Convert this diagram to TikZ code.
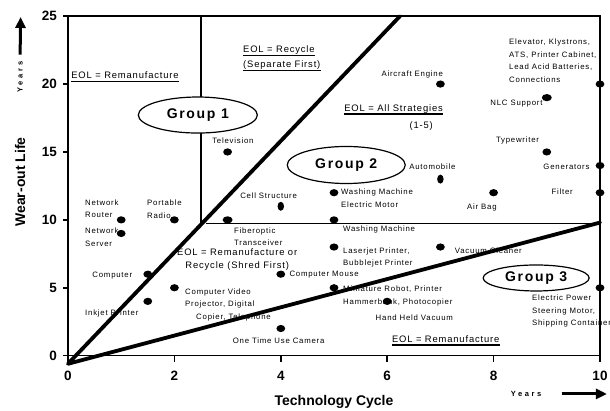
\documentclass[tikz,border=0pt]{standalone}
\usepackage{fontspec}
\setmainfont{Liberation Sans}
\newfontfamily\lblfont[LetterSpace=10]{Liberation Sans}
\newfontfamily\eolfont[LetterSpace=9]{Liberation Sans}
\newfontfamily\grpfont[LetterSpace=12]{Liberation Sans}
\newfontfamily\yrsfont[LetterSpace=35]{Liberation Sans}
\usepackage{tikz}
\usetikzlibrary{arrows.meta,shapes.geometric}
\newcommand\ulnode[1]{\draw[uline] ([yshift=-2.8pt]#1.base west) -- ([yshift=-2.8pt]#1.base east);}

\begin{document}
\begin{tikzpicture}[x=53.2pt,y=13.58pt,
	lbl/.style={font=\lblfont\fontsize{7.8}{12.5}\selectfont,inner sep=0pt,align=left},
	eol/.style={font=\eolfont\fontsize{9.4}{12.7}\selectfont,inner sep=0pt},
	grp/.style={ellipse,draw,fill=white,line width=1.2pt,inner sep=0pt,font=\grpfont\bfseries\fontsize{14}{16}\selectfont},
	dot/.style={ellipse,fill,inner sep=0pt,minimum width=8.8pt,minimum height=7.2pt},
	vdot/.style={dot,minimum width=6.5pt,minimum height=9pt},
	axlbl/.style={font=\bfseries\fontsize{13.5}{15}\selectfont,inner sep=0pt},
	axtitle/.style={font=\bfseries\fontsize{14}{16}\selectfont,inner sep=0pt},
	yrs/.style={font=\yrsfont\bfseries\fontsize{7.5}{8}\selectfont,inner sep=0pt},
	yarrow/.style={line width=3pt,-{Triangle[length=11pt,width=10pt]}},
	uline/.style={line width=1.4pt},
	border/.style={line width=3.8pt,line join=round,line cap=round},
	sep/.style={line width=1.4pt},
	frame/.style={line width=1.6pt}]
	\useasboundingbox (-1.278,-4.072) rectangle (10.188,26.19);
	
	% product labels
	\node[lbl] (lTV) at (3.1,15.8) {Television};
	\node[lbl] (lCell) at (3.77,11.8) {Cell Structure};
	\node[lbl,anchor=west] (lFiber) at (3.12,8.77) {Fiberoptic\\Transceiver};
	\node[lbl,anchor=west] (lWash1) at (5.13,11.58) {Washing Machine\\Electric Motor};
	\node[lbl,anchor=west] (lWash2) at (5.17,9.3) {Washing Machine};
	\node[lbl,anchor=west] (lLaser) at (5.17,7.23) {Laserjet Printer,\\Bubblejet Printer};
	\node[lbl,anchor=west] (lMouse) at (4.16,5.94) {Computer Mouse};
	\node[lbl,anchor=west] (lRobot) at (5.17,4.41) {Miniature Robot, Printer\\Hammerbank, Photocopier};
	\node[lbl] (lHand) at (6.51,2.83) {Hand Held Vacuum};
	\node[lbl] (lCamera) at (3.96,1.1) {One Time Use Camera};
	\node[lbl,anchor=west] (lVideo) at (2.2,3.76) {Computer Video\\Projector, Digital\\\hspace*{11pt}Copier, Telephone};
	\node[lbl,anchor=west] (lInkjet) at (0.32,3.12) {Inkjet Printer};
	\node[lbl,anchor=east] (lComp) at (1.21,5.92) {Computer};
	\node[lbl,anchor=west] (lRouter) at (0.32,10.83) {Network\\Router};
	\node[lbl,anchor=west] (lServer) at (0.32,8.73) {Network\\Server};
	\node[lbl,anchor=west] (lRadio) at (1.485,10.8) {Portable\\Radio};
	\node[lbl] (lAir) at (6.47,20.74) {Aircraft Engine};
	\node[lbl] (lNLC) at (8.43,18.58) {NLC Support};
	\node[lbl,anchor=west] (lElev) at (8.29,21.71) {Elevator, Klystrons,\\ATS, Printer Cabinet,\\Lead Acid Batteries,\\Connections};
	\node[lbl] (lType) at (8.45,15.83) {Typewriter};
	\node[lbl] (lGen) at (9.37,13.92) {Generators};
	\node[lbl] (lFilter) at (9.29,12.08) {Filter};
	\node[lbl] (lAuto) at (6.85,13.92) {Automobile};
	\node[lbl] (lBag) at (7.78,10.9) {Air Bag};
	\node[lbl,anchor=west] (lVac) at (7.27,7.71) {Vacuum Cleaner};
	\node[lbl,anchor=west] (lEPS) at (8.72,3.26) {Electric Power\\Steering Motor,\\Shipping Container};
	
	% EOL strategies
	\node[eol,anchor=west] (eRem1) at (0.06,20.66) {EOL = Remanufacture};
	\node[eol,anchor=west] (eRecA) at (3.29,22.5) {EOL = Recycle};
	\node[eol,anchor=west] (eRecB) at (3.29,21.4) {(Separate First)};
	\node[eol] (eAll) at (6.12,18.17) {EOL = All Strategies};
	\node[eol] (eAllN) at (6.64,16.9) {(1-5)};
	\node[eol,align=center] (eShred) at (3.18,7.07) {EOL = Remanufacture or\\Recycle (Shred First)};
	\node[eol] (eRem2) at (7.1,1.23) {EOL = Remanufacture};
	\ulnode{eRem1} \ulnode{eRecA} \ulnode{eRecB} \ulnode{eAll} \ulnode{eRem2}
	
	% region borders
	\coordinate (o) at (0,-0.6);
	\coordinate (up) at (6.24,25);
	\coordinate (lo) at (10,9.8);
	\draw[border] (up) -- (o) -- (lo);
	\draw[sep] (2.5,25) -- (2.5,9.75);
	\draw[sep] (2.6,9.75) -- (10,9.75);
	
	% axes
	\draw[frame] (0,0) rectangle (10,25);
	\foreach \y in {0,5,...,25} {
		\draw[frame] (0,\y) -- (-0.1,\y);
		\node[axlbl,anchor=east] (ty\y) at (-0.207,\y) {\y};
	}
	\foreach \x in {0,2,...,10} {
		\draw[frame] (\x,0) -- (\x,-0.45);
		\node[axlbl] (tx\x) at (\x,-1.47) {\x};
	}
	\node[axtitle,rotate=90] (ytitle) at (-0.902,12.79) {Wear-out Life};
	\node[axtitle] (xtitle) at (5,-3.39) {Technology Cycle};
	\node[yrs,rotate=90] (yrsY) at (-0.902,20.52) {Years};
	\coordinate (ytip) at (-0.89,24.94);
	\draw[yarrow,shorten <=7pt] (yrsY.east) -- (ytip);
	\node[yrs] (yrsX) at (8.61,-2.82) {Years};
	\coordinate (xtip) at (10.13,-2.82);
	\draw[yarrow,shorten <=20pt] (yrsX.east) -- (xtip);
	
	% data points
	\foreach \n/\p in {dTV/{3,15},dWash1/{5,12},dWash2/{5,10},dLaser/{5,8},dMouse/{4,6},
		dRobot/{5,5},dHand/{6,4},dCamera/{4,2},dVideo/{2,5},dInkjet/{1.5,4},dComp/{1.5,6},
		dRouter/{1,10},dServer/{1,9},dRadio/{2,10},dAir/{7,20},dElev/{10,20},dType/{9,15},
		dGen/{10,14},dFilter/{10,12},dBag/{8,12},dVac/{7,8},dEPS/{10,5}}
		\node[dot] (\n) at (\p) {};
	\node[vdot] (dCell) at (4,11) {};
	\node[vdot] (dAuto) at (7,13) {};
	\node[dot,minimum width=10pt] (dFiber) at (3,10) {};
	\node[dot,minimum width=10pt] (dNLC) at (9,19) {};
	
	% groups
	\node[grp,minimum width=119pt,minimum height=36pt] (g1) at (2.44,17.72) {Group 1};
	\node[grp,minimum width=118pt,minimum height=37pt] (g2) at (5.23,14.04) {Group 2};
	\node[grp,minimum width=106pt,minimum height=26pt] (g3) at (8.8,5.72) {Group 3};
\end{tikzpicture}
\end{document}
